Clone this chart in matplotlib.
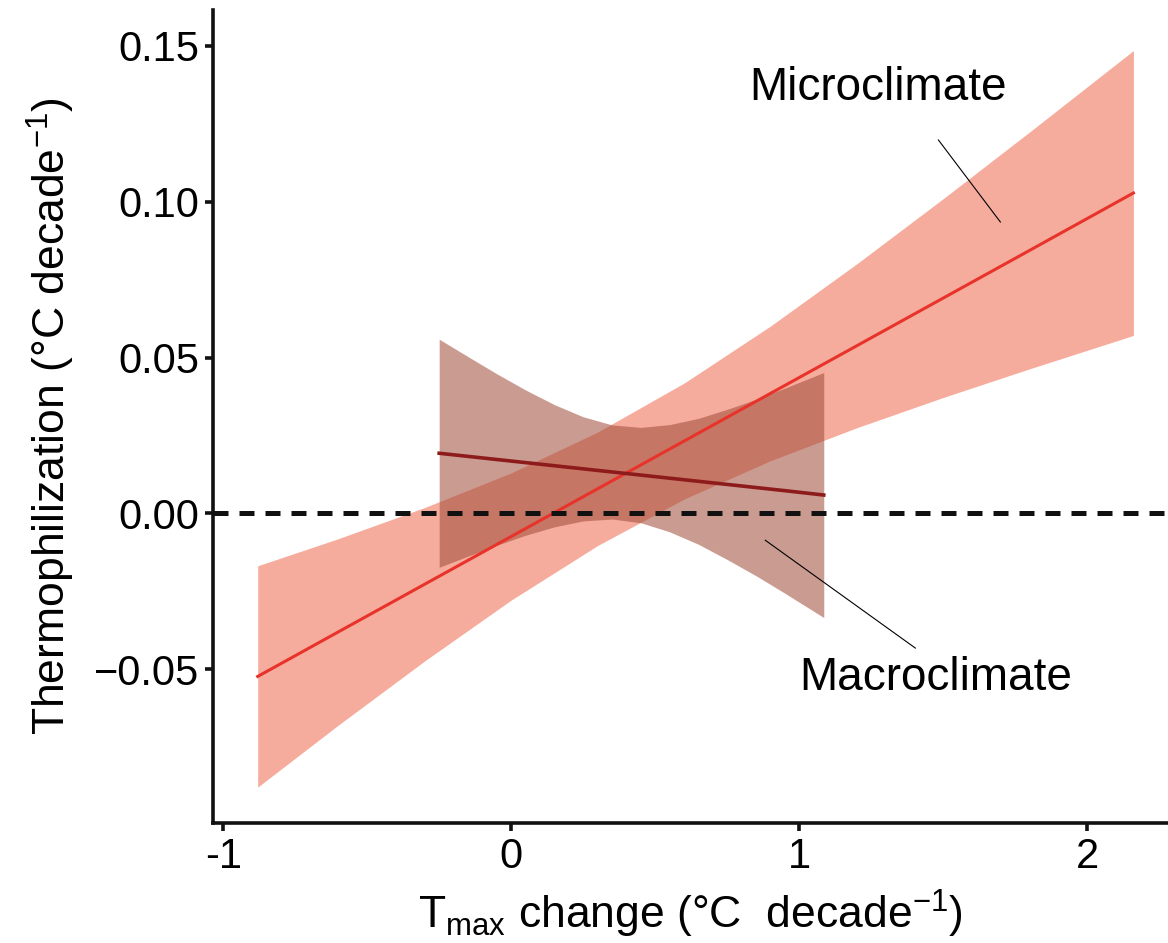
import matplotlib
matplotlib.use('Agg')
import matplotlib.pyplot as plt
import numpy as np

plt.rcParams['font.family'] = ['Liberation Sans', 'DejaVu Sans']
plt.rcParams['mathtext.fontset'] = 'custom'
plt.rcParams['mathtext.rm'] = 'Liberation Sans'
plt.rcParams['mathtext.it'] = 'Liberation Sans:italic'
plt.rcParams['mathtext.default'] = 'regular'

# microclimate fit and confidence band
micro_x = [-0.88, -0.6, -0.3, 0.0, 0.3, 0.6, 0.9, 1.2, 1.5, 1.8, 2.16]
micro_fit = [-0.0523, -0.0380, -0.0227, -0.0074, 0.0079, 0.0232, 0.0385, 0.0538, 0.0691, 0.0844, 0.1028]
micro_hi = [-0.0168, -0.0081, 0.0019, 0.0130, 0.0261, 0.0418, 0.0601, 0.0801, 0.1010, 0.1224, 0.1485]
micro_lo = [-0.0878, -0.0679, -0.0473, -0.0278, -0.0103, 0.0046, 0.0169, 0.0275, 0.0372, 0.0464, 0.0571]

# macroclimate fit and confidence band
macro_x = [-0.25, -0.15, -0.05, 0.05, 0.15, 0.25, 0.35, 0.45, 0.55, 0.65, 0.75, 0.85, 0.95, 1.085]
macro_fit = [0.0193, 0.0183, 0.0173, 0.0163, 0.0153, 0.0143, 0.0133, 0.0123, 0.0113, 0.0103, 0.0093, 0.0083, 0.0073, 0.0059]
macro_hi = [0.0559, 0.0503, 0.0448, 0.0396, 0.0349, 0.0310, 0.0284, 0.0276, 0.0285, 0.0305, 0.0334, 0.0366, 0.0402, 0.0452]
macro_lo = [-0.0173, -0.0137, -0.0102, -0.0070, -0.0043, -0.0024, -0.0018, -0.0030, -0.0059, -0.0099, -0.0148, -0.0200, -0.0256, -0.0334]

x_ticks = [-1, 0, 1, 2]
y_ticks = [-0.05, 0.00, 0.05, 0.10, 0.15]

fig = plt.figure(figsize=(11.68, 9.43), dpi=100)
ax = fig.add_axes([0.1824, 0.1273, 0.8176, 0.8621])

ax.fill_between(micro_x, micro_lo, micro_hi, color='#EF5A3C', alpha=0.5, lw=0, zorder=1)
ax.plot(micro_x, micro_fit, color='#E8332B', lw=2.2, zorder=4)

ax.fill_between(macro_x, macro_lo, macro_hi, color='#A04A38', alpha=0.55, lw=0, zorder=2)
ax.plot(macro_x, macro_fit, color='#8E1B1B', lw=2.6, zorder=5)

ax.axhline(0, color='#111111', lw=3.6, dashes=(3, 2.2), zorder=6)

# labels with leader lines
ax.text(1.274, 0.1365, 'Microclimate', fontsize=33, ha='center', va='center')
ax.plot([1.483, 1.698], [0.1198, 0.0935], color='black', lw=0.8, zorder=7)
ax.text(1.472, -0.0528, 'Macroclimate', fontsize=33, ha='center', va='center')
ax.plot([0.882, 1.403], [-0.0086, -0.0432], color='black', lw=0.8, zorder=7)

ax.set_xlim(-1.035, 2.28)
ax.set_ylim(-0.0993, 0.1615)
ax.set_xticks(x_ticks)
ax.set_xticklabels(['-1', '0', '1', '2'])
ax.set_yticks(y_ticks)
ax.set_yticklabels(['\u22120.05', '0.00', '0.05', '0.10', '0.15'])

for s in ['top', 'right']:
    ax.spines[s].set_visible(False)
for s in ['left', 'bottom']:
    ax.spines[s].set_linewidth(2.6)
    ax.spines[s].set_color('#111111')
ax.tick_params(axis='both', labelsize=30, width=2.6, length=6, color='#111111', pad=4)

ax.set_ylabel('Thermophilization (°C decade$^{\u2212 1}$)', fontsize=32, labelpad=12)
ax.set_xlabel('T$_{max}$ change (°C  decade$^{\u2212 1}$)', fontsize=32, labelpad=8)

fig.savefig('out.png', dpi=100)
